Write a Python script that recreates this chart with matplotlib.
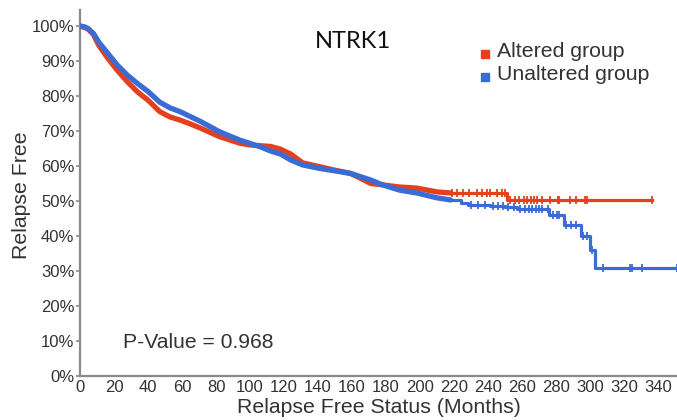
import numpy as np
import matplotlib
matplotlib.use("Agg")
import matplotlib.pyplot as plt
from matplotlib.ticker import FuncFormatter

# Kaplan-Meier estimates (months, % relapse free)
months_altered = [0, 3, 5, 8, 11, 16.5, 22, 28, 34, 40, 47, 53, 59, 65, 71, 82, 94,
                  100, 106, 112, 118, 124, 131, 141, 150, 159, 165, 171, 178, 188,
                  198, 210, 218, 251, 336.5]
relapse_free_altered = [100, 99.5, 99.0, 97.5, 94.5, 90.7, 87.3, 84.0, 81.1, 78.8, 75.5,
                        74.0, 73.1, 72.0, 70.8, 68.4, 66.5, 66.0, 65.8, 65.6, 64.8, 63.4,
                        60.9, 59.8, 58.8, 57.9, 56.5, 55.0, 54.6, 54.0, 53.7, 52.6, 52.3,
                        50.2, 50.2]

months_unaltered = [0, 3, 5, 8, 11, 16.5, 22, 28, 34, 40, 47, 53, 59, 65, 71, 82, 94,
                    106, 112, 118, 124, 131, 141, 150, 159, 171, 178, 188, 198, 210,
                    218, 224, 228, 241, 250, 257, 276, 284.5, 294.5, 300, 303, 351]
relapse_free_unaltered = [100, 99.7, 99.2, 97.8, 95.4, 92.1, 88.8, 85.9, 83.5, 81.3, 78.2,
                          76.6, 75.5, 74.1, 72.7, 69.8, 67.4, 65.5, 64.3, 63.4, 61.7, 60.3,
                          59.3, 58.6, 57.9, 56.0, 54.6, 53.1, 52.3, 50.9, 50.3, 49.5, 48.9,
                          48.6, 48.3, 47.7, 46.0, 43.1, 39.9, 36.0, 30.9, 30.9]

# censored observations in the sparse tail
censor_altered = [219, 222, 225, 229, 233.5, 236.5, 239.4, 241, 245, 248, 250, 253, 256,
                  258, 261, 263, 265, 267, 269, 272, 276.5, 281, 282, 288, 292, 297, 298,
                  336.5]
censor_unaltered = [230, 234, 238, 243, 246, 249, 252, 255, 259, 262, 264, 266, 268, 270,
                    272, 275, 278, 280.6, 282, 286, 289, 292, 296, 298, 301, 307.6, 323.5,
                    324.7, 330.6, 351]

tail_start = 218
gene = "NTRK1"
p_value = 0.968
groups = ["Altered group", "Unaltered group"]
colors = ["#E5401E", "#3A6CD6"]

x_ticks = list(range(0, 341, 20))
y_ticks = list(range(0, 101, 10))

plt.rcParams["font.family"] = ["Liberation Sans", "DejaVu Sans"]
text_color = "#333333"
spine_color = "#8a8a8a"

fig = plt.figure(figsize=(6.77, 4.20), dpi=100)
ax = fig.add_axes([80 / 677, 1 - 376 / 420, 1 - 80 / 677, (376 - 10) / 420])


def step_value(times, values, t):
    idx = np.searchsorted(times, t, side="right") - 1
    return np.asarray(values)[np.clip(idx, 0, len(values) - 1)]


for t, s, cens, col in [
    (months_altered, relapse_free_altered, censor_altered, colors[0]),
    (months_unaltered, relapse_free_unaltered, censor_unaltered, colors[1]),
]:
    t = np.asarray(t, float)
    s = np.asarray(s, float)
    body = t <= tail_start
    tail = t >= tail_start
    ax.plot(t[body], s[body], color=col, lw=3.8, solid_capstyle="round",
            solid_joinstyle="round", zorder=3)
    ax.plot(t[tail], s[tail], color=col, lw=2.3, drawstyle="steps-post", zorder=3)
    c = np.asarray(cens, float)
    ax.plot(c, step_value(t, s, c), linestyle="none", marker="|", markersize=5.5,
            markeredgewidth=1.3, color=col, zorder=4)

ax.set_xlim(0, (677 - 80) / 1.7)
ax.set_ylim(0, 100 + 16 / 3.5)
ax.set_xticks(x_ticks)
ax.set_yticks(y_ticks)
ax.yaxis.set_major_formatter(FuncFormatter(lambda v, _: f"{int(v)}%"))

for side in ["top", "right"]:
    ax.spines[side].set_visible(False)
for side in ["left", "bottom"]:
    ax.spines[side].set_color(spine_color)
    ax.spines[side].set_linewidth(1.6)

ax.tick_params(axis="y", length=3, width=1.2, color=spine_color, pad=1,
               labelsize=12, labelcolor=text_color)
ax.tick_params(axis="x", length=0, pad=3, labelsize=12, labelcolor=text_color)

# axis titles
fig.text(379 / 677, 1 - 413 / 420, "Relapse Free Status (Months)", ha="center",
         va="baseline", fontsize=15.3, color=text_color)
fig.text(22 / 677, 1 - 195 / 420, "Relapse Free", ha="center", va="center",
         rotation=90, fontsize=15.3, color=text_color)

# gene name
fig.text(353 / 677, 1 - 48 / 420, gene, ha="center", va="baseline", fontsize=17,
         color="#111111", family=["Lato", "DejaVu Sans"])

# legend
for i, (name, col) in enumerate(zip(groups, colors)):
    ym = 54 + 22.5 * i
    ax.plot([485 / 677], [1 - ym / 420], marker="s", markersize=6, color=col,
            transform=fig.transFigure, clip_on=False, linestyle="none")
    fig.text(497 / 677, 1 - (ym + 3) / 420, name, ha="left", va="baseline",
             fontsize=15.3, color=text_color)

ax.text(25.3, 8.0, f"P-Value = {p_value}", ha="left", va="baseline",
        fontsize=15.2, color=text_color)

fig.savefig("out.png", dpi=100)
